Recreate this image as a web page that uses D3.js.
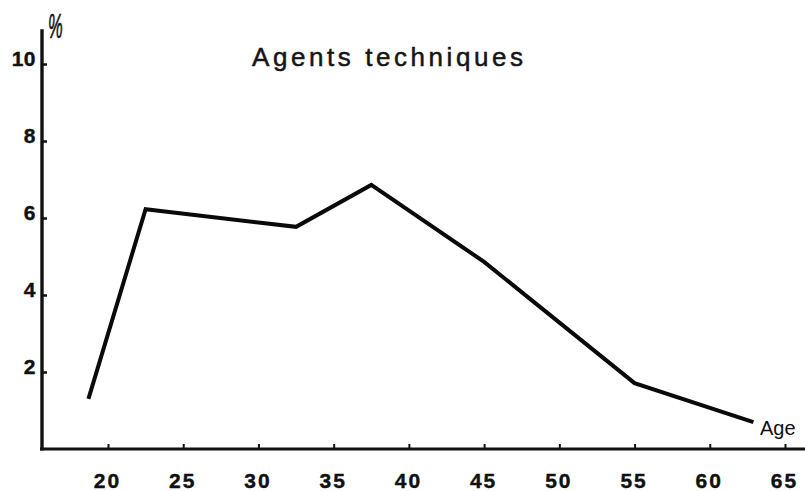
<!DOCTYPE html>
<html>
<head>
<meta charset="utf-8">
<script src="https://cdn.jsdelivr.net/npm/d3@7"></script>
<style>
  body { margin: 0; background: #fff; }
  svg { display: block; }
  .tick text { font-family: "Liberation Sans", Arial, sans-serif; font-weight: bold; font-size: 21px; fill: #111; }
</style>
</head>
<body>
<div id="chart"></div>
<script>
// age class midpoints (years) and share of agents (%)
var ages = [18.7, 22.5, 32.5, 37.5, 45, 55, 62.9];
var shares = [1.3, 6.23, 5.77, 6.86, 4.86, 1.71, 0.70];
var xTicks = [20, 25, 30, 35, 40, 45, 50, 55, 60, 65];
var yTicks = [2, 4, 6, 8, 10];
var title = "Agents techniques";

var W = 805, H = 491;

var x = d3.scaleLinear().domain([20, 65]).range([108, 785]);
var y = d3.scaleLinear().domain([0, 10]).range([449, 64]);

var svg = d3.select("#chart").append("svg")
    .attr("width", W)
    .attr("height", H);

svg.append("rect").attr("width", W).attr("height", H).attr("fill", "#fff");

// y axis (ticks pointing right, labels left)
var yAxis = svg.append("g")
    .attr("transform", "translate(42,0)")
    .call(d3.axisLeft(y).tickValues(yTicks).tickSizeInner(-5).tickSizeOuter(0).tickPadding(6));
yAxis.select(".domain").remove();
yAxis.selectAll(".tick line").attr("stroke", "#111").attr("stroke-width", 2.5);
yAxis.selectAll(".tick text").attr("dy", "0.08em").attr("letter-spacing", "0.5px")
    .attr("stroke", "#111").attr("stroke-width", 0.4);

// x axis (ticks pointing up, labels below)
var xAxis = svg.append("g")
    .attr("transform", "translate(0," + y(0) + ")")
    .call(d3.axisBottom(x).tickValues(xTicks).tickSizeInner(-5).tickSizeOuter(0).tickPadding(0));
xAxis.select(".domain").remove();
xAxis.selectAll(".tick line").attr("stroke", "#111").attr("stroke-width", 2);
xAxis.selectAll(".tick text")
    .attr("y", 39).attr("dy", 0).attr("dx", -1)
    .attr("letter-spacing", "2px")
    .attr("stroke", "#111").attr("stroke-width", 0.4);

// axis lines
svg.append("line")
    .attr("x1", 42).attr("x2", 42)
    .attr("y1", y(10.9)).attr("y2", y(0) + 1.5)
    .attr("stroke", "#111").attr("stroke-width", 3.4);
svg.append("line")
    .attr("x1", 40).attr("x2", W)
    .attr("y1", y(0)).attr("y2", y(0))
    .attr("stroke", "#111").attr("stroke-width", 3.2);

// data line
var line = d3.line()
    .x(function(d, i) { return x(ages[i]); })
    .y(function(d) { return y(d); });

svg.append("path")
    .datum(shares)
    .attr("d", line)
    .attr("fill", "none")
    .attr("stroke", "#0a0a0a")
    .attr("stroke-width", 4)
    .attr("stroke-linejoin", "miter");

// labels
svg.append("text")
    .attr("x", 252).attr("y", 66)
    .attr("textLength", 271).attr("lengthAdjust", "spacing")
    .style("font", "26px 'Liberation Sans', Arial, sans-serif")
    .attr("fill", "#151515")
    .attr("stroke", "#151515").attr("stroke-width", 0.5)
    .text(title);

svg.append("text")
    .attr("transform", "translate(48,38) scale(0.55,1.2)")
    .style("font", "italic 30px 'Liberation Sans', Arial, sans-serif")
    .attr("fill", "#111")
    .attr("stroke", "#111").attr("stroke-width", 0.6)
    .text("%");

svg.append("text")
    .attr("x", 760).attr("y", 435)
    .style("font", "20px 'Liberation Sans', Arial, sans-serif")
    .attr("fill", "#111")
    .text("Age");
</script>
</body>
</html>
